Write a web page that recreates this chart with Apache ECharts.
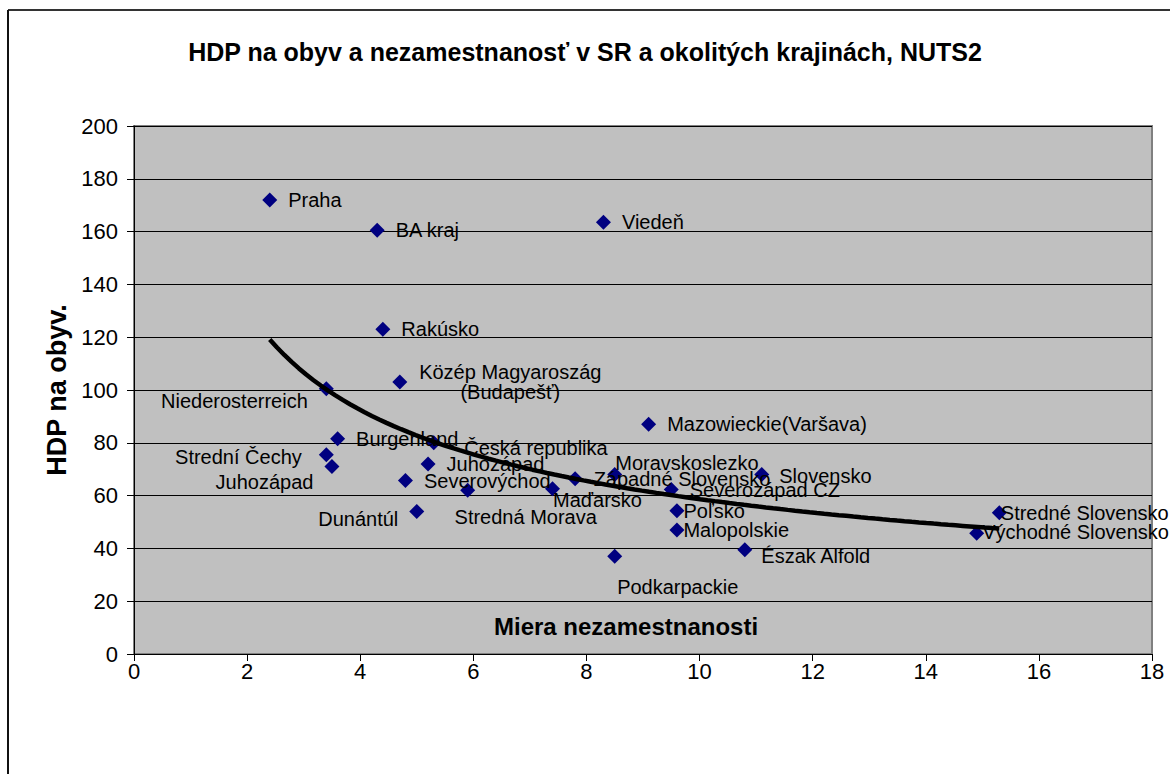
<!DOCTYPE html>
<html>
<head>
<meta charset="utf-8">
<title>HDP na obyv a nezamestnanosť</title>
<script src="https://cdn.jsdelivr.net/npm/echarts@6/dist/echarts.min.js"></script>
<style>
  html, body { margin: 0; padding: 0; background: #fff; }
  #main { width: 1170px; height: 774px; }
</style>
</head>
<body>
<div id="main"></div>
<script>
// regions (NUTS2 + countries)
var regions = ['Praha', 'BA kraj', 'Viedeň', 'Rakúsko', 'Közép Magyaroszág\n(Budapešť)',
  'Niederosterreich', 'Mazowieckie(Varšava)', 'Burgenland', 'Česká republika', 'Strední Čechy',
  'Juhozápad', 'Juhozápad ', 'Severovýchod', 'Dunántúl', 'Stredná Morava', 'Maďarsko',
  'Západné Slovensko', 'Moravskoslezko', 'Severozápad CZ', 'Poľsko', 'Malopolskie',
  'Podkarpackie', 'Észak Alfold', 'Slovensko', 'Stredné Slovensko', 'Východné Slovensko'];
// miera nezamestnanosti (%)
var unemployment = [2.4, 4.3, 8.3, 4.4, 4.7, 3.4, 9.1, 3.6, 5.3, 3.4,
  3.5, 5.2, 4.8, 5.0, 5.9, 7.4, 7.8, 8.5, 9.5, 9.6, 9.6, 8.5, 10.8, 11.1, 15.3, 14.9];
// HDP na obyv. (EU = 100)
var gdpPerCap = [172, 160.5, 163.5, 123, 103, 100.5, 87, 81.5, 80, 75.5,
  71, 72, 65.7, 54, 62, 62.6, 66.4, 68, 62.3, 54.3, 47, 37, 39.5, 68, 53.5, 45.7];
var xTicks = [0, 2, 4, 6, 8, 10, 12, 14, 16, 18];
var yTicks = [0, 20, 40, 60, 80, 100, 120, 140, 160, 180, 200];

// label placement, as hand-moved in the original
var labelPlace = {
  'Közép Magyaroszág\n(Budapešť)': { position: 'right', align: 'center', offset: [92, 0] },
  'Niederosterreich': { position: 'left', offset: [0, 12] },
  'Česká republika': { offset: [12, 5] },
  'Strední Čechy': { position: 'left', offset: [-6, 2] },
  'Juhozápad': { position: 'left', offset: [0, 15] },
  'Dunántúl': { position: 'left', offset: [0, 8] },
  'Stredná Morava': { position: 'bottom', offset: [58, -2] },
  'Maďarsko': { offset: [-18, 11] },
  'Moravskoslezko': { offset: [-18, -11] },
  'Poľsko': { offset: [-12, 0] },
  'Malopolskie': { offset: [-12, 0] },
  'Podkarpackie': { position: 'bottom', offset: [63, 2] },
  'Észak Alfold': { offset: [-2, 6] },
  'Slovensko': { offset: [-1, 2] },
  'Stredné Slovensko': { offset: [-17, 0] },
  'Východné Slovensko': { offset: [-13, -1] }
};

var points = regions.map(function (name, i) {
  var item = { name: name.trim(), value: [unemployment[i], gdpPerCap[i]] };
  if (labelPlace[name]) item.label = labelPlace[name];
  return item;
});

// power trendline (Excel-like): fit ln(y) = ln(c) + k ln(x)
var n = unemployment.length, sx = 0, sy = 0, sxx = 0, sxy = 0;
for (var i = 0; i < n; i++) {
  var lx = Math.log(unemployment[i]), ly = Math.log(gdpPerCap[i]);
  sx += lx; sy += ly; sxx += lx * lx; sxy += lx * ly;
}
var k = (n * sxy - sx * sy) / (n * sxx - sx * sx);
var c = Math.exp((sy - k * sx) / n);
var xMin = Math.min.apply(null, unemployment), xMax = Math.max.apply(null, unemployment);
var trend = [];
for (var s = 0; s <= 100; s++) {
  var xv = xMin + (xMax - xMin) * s / 100;
  trend.push([xv, c * Math.pow(xv, k)]);
}

var font = 'Arial, "Liberation Sans", sans-serif';
var chart = echarts.init(document.getElementById('main'), null, { renderer: 'svg' });
chart.setOption({
  backgroundColor: '#fff',
  animation: false,
  title: {
    text: 'HDP na obyv a nezamestnanosť v SR a okolitých krajinách, NUTS2',
    left: 'center', top: 34,
    textStyle: { fontFamily: font, fontSize: 25, fontWeight: 'bold', color: '#000' }
  },
  graphic: [
    { type: 'line', shape: { x1: 8, y1: 10, x2: 1170, y2: 10 }, style: { stroke: '#333', lineWidth: 2 } },
    { type: 'line', shape: { x1: 8, y1: 10, x2: 8, y2: 774 }, style: { stroke: '#111', lineWidth: 2 } },
    {
      type: 'text', left: 494, top: 614, z: 10,
      style: { text: 'Miera nezamestnanosti', font: 'bold 24px ' + font, fill: '#000' }
    }
  ],
  grid: {
    left: 134, right: 18, top: 126, bottom: 120,
    show: true, backgroundColor: '#c0c0c0', borderColor: '#808080', borderWidth: 2
  },
  xAxis: {
    type: 'value', min: xTicks[0], max: xTicks[xTicks.length - 1], interval: 2,
    axisLine: { lineStyle: { color: '#000', width: 1 } },
    axisTick: { show: true, length: 7, lineStyle: { color: '#000' } },
    axisLabel: { fontFamily: font, fontSize: 22, color: '#000', margin: 6 },
    splitLine: { show: false }
  },
  yAxis: {
    type: 'value', min: yTicks[0], max: yTicks[yTicks.length - 1], interval: 20,
    name: 'HDP na obyv.', nameLocation: 'middle', nameRotate: 90, nameGap: 58,
    nameTextStyle: { fontFamily: font, fontSize: 27, fontWeight: 'bold', color: '#000' },
    axisLine: { show: true, lineStyle: { color: '#000', width: 1 } },
    axisTick: { show: true, length: 7, lineStyle: { color: '#000' } },
    axisLabel: { fontFamily: font, fontSize: 22, color: '#000', margin: 16 },
    splitLine: { show: true, lineStyle: { color: '#000', width: 1 } }
  },
  series: [
    {
      type: 'scatter', symbol: 'diamond', symbolSize: 15,
      itemStyle: { color: '#000080', opacity: 1 },
      label: {
        show: true, position: 'right', distance: 11,
        formatter: '{b}', fontFamily: font, fontSize: 20, color: '#000'
      },
      data: points, z: 3
    },
    {
      type: 'line', data: trend, showSymbol: false, smooth: false, silent: true,
      lineStyle: { color: '#000', width: 4.5 }, z: 4
    }
  ]
});
</script>
</body>
</html>
